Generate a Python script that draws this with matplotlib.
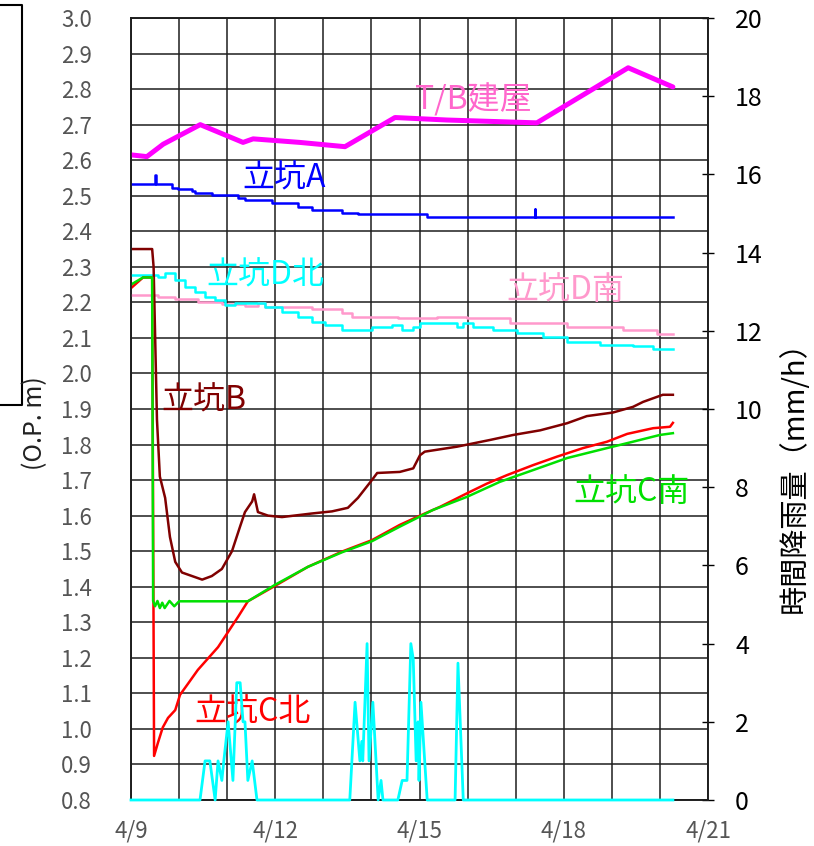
import matplotlib
matplotlib.use("Agg")
import matplotlib.pyplot as plt
from matplotlib.lines import Line2D

plt.rcParams['font.family'] = ['Noto Sans CJK JP', 'DejaVu Sans']

# ---- data (x = days since 4/9) ----
tb_days = [0.0, 0.33, 0.67, 1.44, 2.33, 2.54, 3.51, 4.45, 5.49, 6.57, 8.44, 10.34, 11.27]
tb_vals = [2.615, 2.61, 2.645, 2.70, 2.65, 2.66, 2.65, 2.638, 2.72, 2.713, 2.705, 2.86, 2.806]

a_days = [0.0, 0.49, 0.5, 0.51, 0.85, 0.98, 1.27, 1.33, 1.68, 2.23, 2.37, 2.93, 3.47,
          3.76, 4.39, 4.72, 6.16, 8.39, 8.40, 8.41, 11.27]
a_vals = [2.532, 2.532, 2.558, 2.532, 2.523, 2.518, 2.514, 2.509, 2.502, 2.493, 2.488,
          2.48, 2.469, 2.46, 2.452, 2.45, 2.441, 2.441, 2.462, 2.441, 2.441]

dn_days = [0.0, 0.44, 0.56, 0.71, 0.92, 1.12, 1.33, 1.54, 1.75, 1.96, 2.16, 2.52, 2.79,
           3.14, 3.47, 3.76, 4.03, 4.39, 4.87, 5.01, 5.43, 5.64, 5.87, 6.01, 6.63, 6.78,
           6.91, 7.11, 7.53, 8.03, 8.57, 9.07, 9.75, 10.44, 10.86, 11.27]
dn_vals = [2.277, 2.277, 2.272, 2.282, 2.263, 2.244, 2.23, 2.216, 2.206, 2.192, 2.197,
           2.199, 2.188, 2.174, 2.16, 2.145, 2.136, 2.122, 2.122, 2.131, 2.136, 2.122,
           2.131, 2.141, 2.141, 2.131, 2.141, 2.131, 2.122, 2.113, 2.103, 2.089, 2.08,
           2.077, 2.07, 2.07]

ds_days = [0.0, 0.44, 0.56, 0.92, 1.39, 1.89, 2.37, 2.64, 2.79, 3.76, 4.39, 4.6, 5.55,
           6.36, 6.99, 7.88, 9.07, 10.23, 10.94, 11.27]
ds_vals = [2.22, 2.22, 2.216, 2.21, 2.2, 2.194, 2.19, 2.197, 2.187, 2.18, 2.17, 2.16,
           2.155, 2.16, 2.155, 2.141, 2.131, 2.122, 2.11, 2.11]

b_days = [0.0, 0.44, 0.47, 0.54, 0.60, 0.71, 0.81, 0.92, 1.06, 1.27, 1.48, 1.68, 1.89,
          2.10, 2.27, 2.37, 2.52, 2.56, 2.64, 2.85, 3.14, 3.76, 4.18, 4.51, 4.72, 5.01,
          5.12, 5.59, 5.87, 6.01, 6.11, 6.78, 7.47, 7.95, 8.51, 9.07, 9.48, 10.02, 10.44,
          10.65, 11.06, 11.27]
b_vals = [2.35, 2.35, 2.30, 1.87, 1.71, 1.65, 1.54, 1.47, 1.44, 1.43, 1.42, 1.43, 1.45,
          1.50, 1.57, 1.61, 1.64, 1.66, 1.61, 1.60, 1.596, 1.606, 1.612, 1.622, 1.65,
          1.70, 1.72, 1.723, 1.733, 1.77, 1.78, 1.794, 1.813, 1.827, 1.84, 1.86, 1.88,
          1.89, 1.906, 1.92, 1.94, 1.94]

cn_days = [0.0, 0.25, 0.44, 0.48, 0.56, 0.66, 0.77, 0.92, 1.02, 1.19, 1.39, 1.60, 1.81,
           2.02, 2.23, 2.43, 2.99, 3.68, 4.39, 5.01, 5.59, 6.01, 6.43, 6.99, 7.40, 7.82,
           8.36, 8.86, 9.40, 9.90, 10.32, 10.86, 11.21, 11.27]
cn_vals = [2.24, 2.27, 2.27, 0.924, 0.961, 1.004, 1.031, 1.053, 1.096, 1.128, 1.166,
           1.198, 1.23, 1.273, 1.316, 1.359, 1.402, 1.456, 1.499, 1.531, 1.574, 1.60,
           1.625, 1.663, 1.69, 1.714, 1.742, 1.766, 1.79, 1.808, 1.83, 1.846, 1.85, 1.861]

cs_days = [0.0, 0.25, 0.44, 0.46, 0.5, 0.55, 0.6, 0.65, 0.7, 0.8, 0.9, 1.0, 2.43, 2.99,
           3.68, 4.39, 5.01, 5.59, 6.28, 6.99, 7.67, 8.36, 9.07, 9.75, 10.44, 11.0, 11.27]
cs_vals = [2.25, 2.27, 2.27, 1.36, 1.345, 1.36, 1.34, 1.355, 1.34, 1.36, 1.345, 1.359,
           1.359, 1.405, 1.456, 1.497, 1.528, 1.569, 1.616, 1.653, 1.695, 1.728, 1.762,
           1.785, 1.808, 1.827, 1.832]

rain_days = [0.0, 1.435, 1.54, 1.64, 1.75, 1.81, 1.89, 1.93, 2.02, 2.12, 2.20, 2.27, 2.33,
             2.37, 2.43, 2.52, 2.62, 4.55, 4.66, 4.76, 4.80, 4.82, 4.91, 4.95, 5.03, 5.14,
             5.20, 5.24, 5.55, 5.64, 5.74, 5.82, 5.87, 5.93, 5.97, 5.99, 6.03, 6.16, 6.74,
             6.80, 6.91, 11.27]
rain_vals = [0, 0, 1, 1, 0, 1, 0.5, 1, 2, 0.5, 3, 3, 2, 2, 0.5, 1, 0, 0, 2.5, 1, 1.5, 1,
             4, 1, 2.5, 0, 0.5, 0, 0, 0.5, 0.5, 4, 3.6, 1, 2, 0.5, 2.5, 0, 0, 3.5, 0, 0]

x_tick_pos = [0, 3, 6, 9, 12]
x_tick_labels = ['4/9', '4/12', '4/15', '4/18', '4/21']

# ---- figure ----
W, H = 814, 846
fig = plt.figure(figsize=(W / 100, H / 100), dpi=100)
ax = fig.add_axes([131 / W, 1 - 800 / H, (708 - 131) / W, (800 - 18) / H])
ax2 = ax.twinx()

grid_c = '#1e1e1e'
ax.set_xlim(0, 12)
ax.set_ylim(0.8, 3.0)
ax2.set_ylim(0, 20)

ax.set_xticks(range(0, 13))
ax.set_xticklabels([x_tick_labels[x_tick_pos.index(i)] if i in x_tick_pos else '' for i in range(13)])
ax.set_yticks([round(0.8 + 0.1 * i, 1) for i in range(23)])
ax.set_yticklabels([f'{0.8 + 0.1 * i:.1f}' for i in range(23)])
ax.grid(True, color=grid_c, lw=1.1)
ax.set_axisbelow(True)
ax.tick_params(axis='both', length=0, labelsize=16, colors='#555555')
ax.tick_params(axis='y', pad=28)
ax.tick_params(axis='x', pad=14)

ax2.set_yticks(range(0, 21, 2))
ax2.tick_params(axis='y', direction='inout', length=9, width=1.0, labelsize=18,
                colors='black', pad=15)

for a in (ax, ax2):
    for s in a.spines.values():
        s.set_color(grid_c)
        s.set_linewidth(1.2)

ax.plot(tb_days, tb_vals, color='#ff00ff', lw=3.6, solid_capstyle='round', zorder=5)
ax.plot(a_days, a_vals, color='#0000ff', lw=1.8, drawstyle='steps-post', zorder=4)
ax.plot(ds_days, ds_vals, color='#ff99cc', lw=1.8, drawstyle='steps-post', zorder=3)
ax.plot(dn_days, dn_vals, color='#00ffff', lw=1.8, drawstyle='steps-post', zorder=3)
ax.plot(b_days, b_vals, color='#800000', lw=1.8, zorder=4)
ax.plot(cn_days, cn_vals, color='#ff0000', lw=1.8, zorder=4)
ax.plot(cs_days, cs_vals, color='#00e000', lw=1.8, zorder=4)
ax2.plot(rain_days, rain_vals, color='#00ffff', lw=2.0, clip_on=False, zorder=5)

fs = 23
ax.text(7.11, 2.769, 'T/B建屋', color='#ff66cc', fontsize=fs, ha='center', va='center')
ax.text(3.18, 2.55, '立坑A', color='#0000ff', fontsize=fs, ha='center', va='center')
ax.text(2.79, 2.277, '立坑D北', color='#00ffff', fontsize=fs, ha='center', va='center')
ax.text(9.03, 2.235, '立坑D南', color='#ff99cc', fontsize=fs, ha='center', va='center')
ax.text(1.52, 1.925, '立坑B', color='#800000', fontsize=fs, ha='center', va='center')
ax.text(10.42, 1.666, '立坑C南', color='#00e000', fontsize=fs, ha='center', va='center')
ax.text(2.52, 1.045, '立坑C北', color='#ff0000', fontsize=fs, ha='center', va='center')

fig.text(35 / W, 1 - 423 / H, '(O.P. m)', rotation=90, fontsize=18, color='#222222',
         ha='center', va='center')
fig.text(795 / W, 1 - 470 / H, '時間降雨量（mm/h）', rotation=90, fontsize=21, color='black',
         ha='center', va='center')

# partial box at the left edge
fig.add_artist(Line2D([0, 22 / W, 22 / W, 0], [1 - 5 / H, 1 - 5 / H, 1 - 405 / H, 1 - 405 / H],
                      transform=fig.transFigure, color='black', lw=1.5))

fig.savefig('out.png', dpi=100)
